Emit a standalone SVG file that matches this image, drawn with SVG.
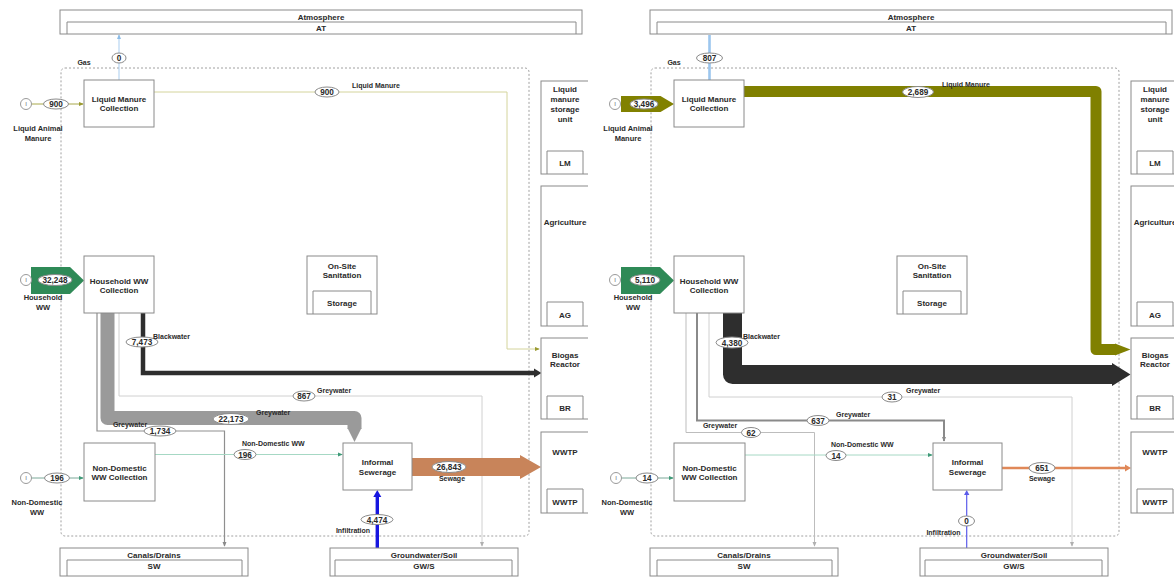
<svg xmlns="http://www.w3.org/2000/svg" width="1174" height="577" viewBox="0 0 1174 577">
<defs>
<style>
.bx{fill:#fff;stroke:#8a8a8a;stroke-width:1}
.in{fill:none;stroke:#8a8a8a;stroke-width:1}
.bd{fill:none;stroke:#a0a0a0;stroke-width:1;stroke-dasharray:2 2}
text{font-family:"Liberation Sans",Arial,sans-serif;font-weight:bold;fill:#2a2a2a;text-anchor:middle}
.t{font-size:8px}
.il{font-size:7.5px}
.s{font-size:7px;text-anchor:start}
.sm{font-size:7px}
.n{font-size:8.2px}
.el{fill:#fff;stroke:#8a8a8a;stroke-width:1}
.ic{fill:#fff;stroke:#9a9a9a;stroke-width:1}
.it{font-size:6px;font-weight:normal;fill:#666}
.f{fill:none}
</style>
<clipPath id="clipL"><rect x="0" y="0" width="588" height="577"/></clipPath>
<marker id="mG" viewBox="0 0 6 6" refX="5" refY="3" markerWidth="5" markerHeight="5" markerUnits="userSpaceOnUse" orient="auto"><path d="M0,0.5L6,3L0,5.5z" fill="#8a8a8a"/></marker>
<marker id="mLg" viewBox="0 0 6 6" refX="5" refY="3" markerWidth="5" markerHeight="5" markerUnits="userSpaceOnUse" orient="auto"><path d="M0,0.5L6,3L0,5.5z" fill="#b0b0b0"/></marker>
<marker id="mOl" viewBox="0 0 6 6" refX="5" refY="3" markerWidth="5" markerHeight="5" markerUnits="userSpaceOnUse" orient="auto"><path d="M0,0.5L6,3L0,5.5z" fill="#9a9a30"/></marker>
<marker id="mTe" viewBox="0 0 6 6" refX="5" refY="3" markerWidth="5" markerHeight="5" markerUnits="userSpaceOnUse" orient="auto"><path d="M0,0.5L6,3L0,5.5z" fill="#3f9a78"/></marker>
<marker id="mLb" viewBox="0 0 6 6" refX="5" refY="3" markerWidth="5" markerHeight="5" markerUnits="userSpaceOnUse" orient="auto"><path d="M0,0.5L6,3L0,5.5z" fill="#8cbde8"/></marker>
</defs>
<rect x="0" y="0" width="1174" height="577" fill="#fff"/>

<!-- ================= LEFT PANEL ================= -->
<g id="panel-left" clip-path="url(#clipL)">
<g id="L-boundary"><rect class="bd" x="61" y="68" width="468" height="468" rx="4"/></g>

<g id="L-connectors">
<line x1="119" y1="80" x2="119" y2="35" stroke="#a9cdef" stroke-width="1" marker-end="url(#mLb)"/>
<ellipse class="el" cx="119" cy="58" rx="7" ry="5"/><text class="n" x="119" y="61">0</text>
<text class="sm" x="84" y="65">Gas</text>

<line x1="31.5" y1="104" x2="83" y2="104" stroke="#a8a84a" stroke-width="1" marker-end="url(#mOl)"/>
<ellipse class="el" cx="56" cy="104" rx="12.5" ry="5"/><text class="n" x="56" y="107">900</text>

<path class="f" d="M154,92H507V349H539" stroke="#d4d49c" stroke-width="1" marker-end="url(#mOl)"/>
<ellipse class="el" cx="327" cy="92" rx="12" ry="5"/><text class="n" x="327" y="95">900</text>
<text class="s" x="352" y="88">Liquid Manure</text>

<polygon points="31,267 70,267 84,280.5 70,294 31,294" fill="#2f8a57"/>
<ellipse class="el" cx="55" cy="280" rx="17" ry="5.5"/><text class="n" x="55" y="283">32,248</text>

<path class="f" d="M107.5,313V418H354.5V429" stroke="#9a9a9a" stroke-width="14" stroke-linejoin="round"/>
<polygon points="347.5,428 361.5,428 354.5,442" fill="#9a9a9a"/>
<ellipse class="el" cx="231" cy="419" rx="18" ry="5.5"/><text class="n" x="231" y="422">22,173</text>
<text class="s" x="256" y="415">Greywater</text>

<path class="f" d="M97,313V431H224.5V546" stroke="#8f8f8f" stroke-width="1.2" marker-end="url(#mG)"/>
<ellipse class="el" cx="160" cy="431" rx="16" ry="5"/><text class="n" x="160" y="434">1,734</text>
<text class="sm" x="130" y="427">Greywater</text>

<path class="f" d="M119,313V396H482V546" stroke="#d0d0d0" stroke-width="1" marker-end="url(#mLg)"/>
<ellipse class="el" cx="304" cy="396" rx="11" ry="5"/><text class="n" x="304" y="399">867</text>
<text class="s" x="317" y="393">Greywater</text>

<path class="f" d="M143,313V373H535" stroke="#2e2e2e" stroke-width="4.5"/>
<polygon points="534,368.5 541.5,373 534,377.5" fill="#2e2e2e"/>
<ellipse class="el" cx="142" cy="342" rx="16" ry="5"/><text class="n" x="142" y="345">7,473</text>
<text class="s" x="153" y="339">Blackwater</text>

<line x1="31.5" y1="478" x2="83" y2="478" stroke="#7aa898" stroke-width="1" marker-end="url(#mTe)"/>
<ellipse class="el" cx="57" cy="478" rx="12.5" ry="5"/><text class="n" x="57" y="481">196</text>

<line x1="155" y1="454.5" x2="342" y2="454.5" stroke="#a6d8c4" stroke-width="1" marker-end="url(#mTe)"/>
<ellipse class="el" cx="245" cy="454.5" rx="11" ry="5"/><text class="n" x="245" y="457.5">196</text>
<text class="s" x="242" y="446">Non-Domestic WW</text>

<path d="M412,458H520V455L541,467L520,479V476H412Z" fill="#c8845a"/>
<ellipse class="el" cx="449" cy="467" rx="17" ry="5.5"/><text class="n" x="449" y="470">26,843</text>
<text class="sm" x="452" y="480.5">Sewage</text>

<line x1="377.3" y1="548" x2="377.3" y2="496" stroke="#1616e0" stroke-width="3.4"/>
<polygon points="373.3,497 377.3,490 381.3,497" fill="#1616e0"/>
<ellipse class="el" cx="377" cy="519.5" rx="16" ry="5"/><text class="n" x="377" y="522.5">4,474</text>
<text class="sm" x="353" y="532.5">Infiltration</text>
</g>

<g id="L-atmosphere"><rect class="bx" x="60" y="10" width="522" height="24"/><path class="in" d="M67,34V22H576V34"/><text class="t" x="321" y="19.5">Atmosphere</text><text class="t" x="321" y="30.5">AT</text></g>
<g id="L-in-lm"><circle class="ic" cx="26" cy="104" r="5.5"/><text class="it" x="26" y="106">I</text><text class="il" x="38" y="130.5">Liquid Animal</text><text class="il" x="38" y="140.5">Manure</text></g>
<g id="L-in-hh"><circle class="ic" cx="26" cy="280" r="5.5"/><text class="it" x="26" y="282">I</text><text class="il" x="43" y="299.5">Household</text><text class="il" x="43" y="309.5">WW</text></g>
<g id="L-in-nd"><circle class="ic" cx="26" cy="478" r="5.5"/><text class="it" x="26" y="480">I</text><text class="il" x="37" y="505">Non-Domestic</text><text class="il" x="37" y="515">WW</text></g>
<g id="L-lmc"><rect class="bx" x="84" y="80" width="70" height="47"/><text class="t" x="119" y="102">Liquid Manure</text><text class="t" x="119" y="111">Collection</text></g>
<g id="L-hhc"><rect class="bx" x="84" y="256" width="70" height="57"/><text class="t" x="119" y="283.5">Household WW</text><text class="t" x="119" y="293">Collection</text></g>
<g id="L-ndc"><rect class="bx" x="84" y="443" width="71" height="58"/><text class="t" x="119.5" y="470.5">Non-Domestic</text><text class="t" x="119.5" y="480">WW Collection</text></g>
<g id="L-oss"><rect class="bx" x="307" y="256" width="70" height="58"/><path class="in" d="M313,314V291H371V314"/><text class="t" x="342" y="268.5">On-Site</text><text class="t" x="342" y="278.3">Sanitation</text><text class="t" x="342" y="306">Storage</text></g>
<g id="L-isw"><rect class="bx" x="343" y="443" width="69" height="47"/><text class="t" x="377.5" y="464.5">Informal</text><text class="t" x="377.5" y="474.5">Sewerage</text></g>
<g id="L-lmsu"><rect class="bx" x="541" y="81" width="60" height="93"/><path class="in" d="M547,174V151H583V174"/><text class="t" x="565" y="92">Liquid</text><text class="t" x="565" y="102">manure</text><text class="t" x="565" y="112">storage</text><text class="t" x="565" y="122">unit</text><text class="t" x="565" y="166">LM</text></g>
<g id="L-ag"><rect class="bx" x="541" y="186" width="60" height="140"/><path class="in" d="M547,326V302H583V326"/><text class="t" x="565" y="225">Agriculture</text><text class="t" x="565" y="317.5">AG</text></g>
<g id="L-br"><rect class="bx" x="541" y="338" width="60" height="81"/><path class="in" d="M547,419V396H583V419"/><text class="t" x="565" y="357.5">Biogas</text><text class="t" x="565" y="366.5">Reactor</text><text class="t" x="565" y="410.5">BR</text></g>
<g id="L-wwtp"><rect class="bx" x="541" y="432" width="60" height="81"/><path class="in" d="M547,513V489H583V513"/><text class="t" x="565" y="455">WWTP</text><text class="t" x="565" y="504.5">WWTP</text></g>
<g id="L-sw"><rect class="bx" x="60" y="548" width="188" height="28"/><path class="in" d="M67,576V560H242V576"/><text class="t" x="154" y="557.5">Canals/Drains</text><text class="t" x="154" y="568.5">SW</text></g>
<g id="L-gws"><rect class="bx" x="330" y="548" width="188" height="28"/><path class="in" d="M335,576V560H512V576"/><text class="t" x="424" y="557.5">Groundwater/Soil</text><text class="t" x="424" y="568.5">GW/S</text></g>
</g>

<!-- ================= RIGHT PANEL ================= -->
<g id="panel-right" transform="translate(590,0)">
<g id="R-boundary"><rect class="bd" x="61" y="68" width="468" height="468" rx="4"/></g>

<g id="R-connectors">
<line x1="119.5" y1="80" x2="119.5" y2="35" stroke="#9cc6ee" stroke-width="2.6"/>
<ellipse class="el" cx="119.5" cy="58" rx="13" ry="5"/><text class="n" x="119.5" y="61">807</text>
<text class="sm" x="84" y="65">Gas</text>

<polygon points="31,96 70.5,96 84,104 70.5,112 31,112" fill="#818100"/>
<ellipse class="el" cx="54" cy="104" rx="14" ry="5"/><text class="n" x="54" y="107">3,496</text>

<path class="f" d="M154,91.5H506V349.5H526" stroke="#808000" stroke-width="11" stroke-linejoin="round"/>
<polygon points="525,343.5 540.5,349.5 525,355.5" fill="#808000"/>
<ellipse class="el" cx="328" cy="92" rx="15.5" ry="5.5"/><text class="n" x="328" y="95">2,689</text>
<text class="s" x="352" y="87">Liquid Manure</text>

<polygon points="31,267 70,267 84,280.5 70,294 31,294" fill="#2f8a57"/>
<ellipse class="el" cx="55" cy="280" rx="15" ry="5.5"/><text class="n" x="55" y="283">5,110</text>

<path class="f" d="M119,313V397H482V546" stroke="#d0d0d0" stroke-width="1" marker-end="url(#mLg)"/>
<ellipse class="el" cx="302" cy="397" rx="10" ry="5"/><text class="n" x="302" y="400">31</text>
<text class="s" x="316" y="393">Greywater</text>

<path class="f" d="M107,313V420.5H354V441" stroke="#8a8a8a" stroke-width="2" marker-end="url(#mG)"/>
<ellipse class="el" cx="228" cy="420.5" rx="11" ry="5"/><text class="n" x="228" y="423.5">637</text>
<text class="s" x="246" y="417">Greywater</text>

<path class="f" d="M96,313V432.5H224.5V546" stroke="#bdbdbd" stroke-width="1" marker-end="url(#mLg)"/>
<ellipse class="el" cx="161" cy="432.5" rx="9.5" ry="5"/><text class="n" x="161" y="435.5">62</text>
<text class="sm" x="130" y="428">Greywater</text>

<path class="f" d="M142.5,313V374.5H523" stroke="#2e2e2e" stroke-width="19" stroke-linejoin="round"/>
<polygon points="522,363 540.5,374.5 522,386" fill="#2e2e2e"/>
<ellipse class="el" cx="142" cy="342.5" rx="16" ry="5.5"/><text class="n" x="142" y="345.5">4,380</text>
<text class="s" x="153" y="339">Blackwater</text>

<line x1="31.5" y1="478" x2="83" y2="478" stroke="#7aa898" stroke-width="1" marker-end="url(#mTe)"/>
<ellipse class="el" cx="57" cy="478" rx="11" ry="5"/><text class="n" x="57" y="481">14</text>

<line x1="155" y1="455" x2="342" y2="455" stroke="#a6d8c4" stroke-width="1" marker-end="url(#mTe)"/>
<ellipse class="el" cx="246" cy="455.5" rx="10" ry="5"/><text class="n" x="246" y="458.5">14</text>
<text class="s" x="241" y="446.5">Non-Domestic WW</text>

<line x1="412" y1="468" x2="536" y2="468" stroke="#e08858" stroke-width="2.6"/>
<polygon points="535,464.5 541,468 535,471.5" fill="#e08858"/>
<ellipse class="el" cx="452" cy="468" rx="13" ry="5.5"/><text class="n" x="452" y="471">651</text>
<text class="sm" x="452" y="480.5">Sewage</text>

<line x1="376.7" y1="548" x2="376.7" y2="494" stroke="#5b5bea" stroke-width="1.2"/>
<polygon points="374,495 376.7,490 379.4,495" fill="#5b5bea"/>
<ellipse class="el" cx="376.5" cy="521" rx="8" ry="5"/><text class="n" x="376.5" y="524">0</text>
<text class="sm" x="353.5" y="535">Infiltration</text>
</g>

<g id="R-atmosphere"><rect class="bx" x="60" y="10" width="522" height="24"/><path class="in" d="M67,34V22H576V34"/><text class="t" x="321" y="19.5">Atmosphere</text><text class="t" x="321" y="30.5">AT</text></g>
<g id="R-in-lm"><circle class="ic" cx="25" cy="104" r="5.5"/><text class="it" x="25" y="106">I</text><text class="il" x="38" y="130.5">Liquid Animal</text><text class="il" x="38" y="140.5">Manure</text></g>
<g id="R-in-hh"><circle class="ic" cx="25" cy="280" r="5.5"/><text class="it" x="25" y="282">I</text><text class="il" x="43" y="299.5">Household</text><text class="il" x="43" y="309.5">WW</text></g>
<g id="R-in-nd"><circle class="ic" cx="26" cy="478" r="5.5"/><text class="it" x="26" y="480">I</text><text class="il" x="37" y="505">Non-Domestic</text><text class="il" x="37" y="515">WW</text></g>
<g id="R-lmc"><rect class="bx" x="84" y="80" width="70" height="47"/><text class="t" x="119" y="102">Liquid Manure</text><text class="t" x="119" y="111">Collection</text></g>
<g id="R-hhc"><rect class="bx" x="84" y="256" width="70" height="57"/><text class="t" x="119" y="283.5">Household WW</text><text class="t" x="119" y="293">Collection</text></g>
<g id="R-ndc"><rect class="bx" x="84" y="443" width="71" height="58"/><text class="t" x="119.5" y="470.5">Non-Domestic</text><text class="t" x="119.5" y="480">WW Collection</text></g>
<g id="R-oss"><rect class="bx" x="307" y="256" width="70" height="58"/><path class="in" d="M313,314V291H371V314"/><text class="t" x="342" y="268.5">On-Site</text><text class="t" x="342" y="278.3">Sanitation</text><text class="t" x="342" y="306">Storage</text></g>
<g id="R-isw"><rect class="bx" x="343" y="443" width="69" height="47"/><text class="t" x="377.5" y="464.5">Informal</text><text class="t" x="377.5" y="474.5">Sewerage</text></g>
<g id="R-lmsu"><rect class="bx" x="541" y="81" width="60" height="93"/><path class="in" d="M547,174V151H583V174"/><text class="t" x="565" y="92">Liquid</text><text class="t" x="565" y="102">manure</text><text class="t" x="565" y="112">storage</text><text class="t" x="565" y="122">unit</text><text class="t" x="565" y="166">LM</text></g>
<g id="R-ag"><rect class="bx" x="541" y="186" width="60" height="140"/><path class="in" d="M547,326V302H583V326"/><text class="t" x="565" y="225">Agriculture</text><text class="t" x="565" y="317.5">AG</text></g>
<g id="R-br"><rect class="bx" x="541" y="338" width="60" height="81"/><path class="in" d="M547,419V396H583V419"/><text class="t" x="565" y="357.5">Biogas</text><text class="t" x="565" y="366.5">Reactor</text><text class="t" x="565" y="410.5">BR</text></g>
<g id="R-wwtp"><rect class="bx" x="541" y="432" width="60" height="81"/><path class="in" d="M547,513V489H583V513"/><text class="t" x="565" y="455">WWTP</text><text class="t" x="565" y="504.5">WWTP</text></g>
<g id="R-sw"><rect class="bx" x="60" y="548" width="188" height="28"/><path class="in" d="M67,576V560H242V576"/><text class="t" x="154" y="557.5">Canals/Drains</text><text class="t" x="154" y="568.5">SW</text></g>
<g id="R-gws"><rect class="bx" x="330" y="548" width="188" height="28"/><path class="in" d="M335,576V560H512V576"/><text class="t" x="424" y="557.5">Groundwater/Soil</text><text class="t" x="424" y="568.5">GW/S</text></g>
</g>
</svg>
